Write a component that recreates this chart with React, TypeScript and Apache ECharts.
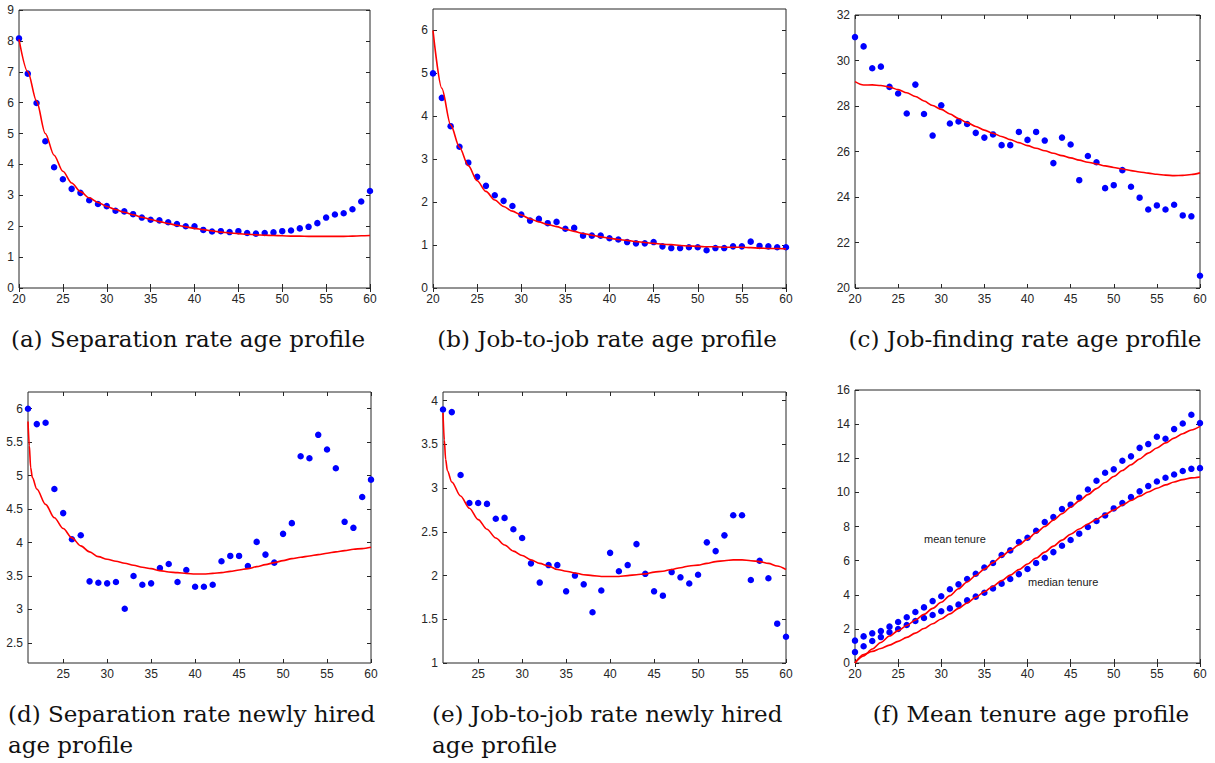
import React, { useEffect, useRef } from "react";
import * as echarts from "echarts";

// ---------- data ----------
const AGES_20 = [20, 21, 22, 23, 24, 25, 26, 27, 28, 29, 30, 31, 32, 33, 34, 35, 36, 37, 38, 39, 40, 41, 42, 43, 44, 45, 46, 47, 48, 49, 50, 51, 52, 53, 54, 55, 56, 57, 58, 59, 60];
const AGES_21 = [21, 22, 23, 24, 25, 26, 27, 28, 29, 30, 31, 32, 33, 34, 35, 36, 37, 38, 39, 40, 41, 42, 43, 44, 45, 46, 47, 48, 49, 50, 51, 52, 53, 54, 55, 56, 57, 58, 59, 60];

// (a) Separation rate age profile
const sepRateData = [8.08, 6.94, 5.99, 4.75, 3.91, 3.52, 3.21, 3.08, 2.84, 2.72, 2.65, 2.5, 2.48, 2.39, 2.28, 2.21, 2.19, 2.13, 2.07, 2.0, 2.0, 1.88, 1.83, 1.84, 1.81, 1.84, 1.78, 1.76, 1.78, 1.8, 1.84, 1.86, 1.93, 1.98, 2.1, 2.28, 2.38, 2.42, 2.55, 2.8, 3.14];
const sepRateModel = [8.05, 7.0, 6.05, 5.0, 4.3, 3.78, 3.4, 3.12, 2.92, 2.77, 2.64, 2.54, 2.45, 2.37, 2.29, 2.22, 2.15, 2.09, 2.03, 1.98, 1.93, 1.89, 1.85, 1.81, 1.78, 1.76, 1.74, 1.72, 1.71, 1.7, 1.69, 1.68, 1.68, 1.67, 1.67, 1.67, 1.67, 1.67, 1.68, 1.69, 1.7];

// (b) Job-to-job rate age profile
const j2jData = [5.0, 4.43, 3.77, 3.29, 2.92, 2.59, 2.38, 2.16, 2.03, 1.91, 1.71, 1.57, 1.61, 1.51, 1.54, 1.38, 1.4, 1.22, 1.22, 1.22, 1.16, 1.13, 1.07, 1.04, 1.04, 1.07, 0.97, 0.93, 0.93, 0.95, 0.95, 0.88, 0.93, 0.93, 0.97, 0.97, 1.08, 0.98, 0.97, 0.95, 0.95];
const j2jModel = [6.0, 4.65, 3.8, 3.28, 2.85, 2.5, 2.25, 2.05, 1.9, 1.79, 1.7, 1.61, 1.54, 1.48, 1.43, 1.37, 1.32, 1.27, 1.23, 1.19, 1.16, 1.13, 1.11, 1.08, 1.06, 1.04, 1.02, 1.01, 0.99, 0.98, 0.97, 0.96, 0.96, 0.95, 0.95, 0.95, 0.94, 0.93, 0.92, 0.92, 0.91];

// (c) Job-finding rate age profile
const jfData = [31.03, 30.62, 29.66, 29.73, 28.84, 28.55, 27.67, 28.94, 27.65, 26.7, 28.03, 27.23, 27.32, 27.21, 26.82, 26.61, 26.75, 26.28, 26.28, 26.86, 26.51, 26.86, 26.48, 25.49, 26.61, 26.31, 24.74, 25.8, 25.53, 24.39, 24.52, 25.18, 24.45, 23.97, 23.45, 23.63, 23.45, 23.66, 23.19, 23.15, 20.54];
const jfModel = [29.07, 28.92, 28.93, 28.9, 28.83, 28.72, 28.58, 28.42, 28.22, 28.02, 27.85, 27.65, 27.45, 27.27, 27.1, 26.94, 26.8, 26.66, 26.52, 26.39, 26.26, 26.14, 26.03, 25.92, 25.82, 25.72, 25.62, 25.53, 25.45, 25.37, 25.3, 25.23, 25.16, 25.1, 25.05, 25.0, 24.96, 24.94, 24.95, 24.99, 25.06];

// (d) Separation rate newly hired age profile
const sepNewData = [6.0, 5.77, 5.79, 4.8, 4.44, 4.05, 4.11, 3.42, 3.4, 3.39, 3.41, 3.01, 3.5, 3.37, 3.39, 3.62, 3.68, 3.41, 3.59, 3.34, 3.34, 3.37, 3.72, 3.8, 3.8, 3.65, 4.01, 3.82, 3.7, 4.13, 4.29, 5.29, 5.26, 5.61, 5.39, 5.11, 4.31, 4.22, 4.68, 4.94];
const sepNewModelAges = [21, 21.15, 21.3, 21.5, 22, 23, 24, 25, 26, 27, 28, 29, 30, 31, 32, 33, 34, 35, 36, 37, 38, 39, 40, 41, 42, 43, 44, 45, 46, 47, 48, 49, 50, 51, 52, 53, 54, 55, 56, 57, 58, 59, 60];
const sepNewModel = [5.81, 5.45, 5.12, 4.97, 4.8, 4.57, 4.37, 4.21, 4.07, 3.95, 3.86, 3.79, 3.75, 3.72, 3.69, 3.66, 3.63, 3.61, 3.58, 3.56, 3.55, 3.54, 3.53, 3.53, 3.54, 3.55, 3.57, 3.59, 3.61, 3.64, 3.67, 3.7, 3.73, 3.76, 3.78, 3.8, 3.82, 3.84, 3.86, 3.88, 3.9, 3.91, 3.93];

// (e) Job-to-job rate newly hired age profile
const j2jNewData = [3.9, 3.87, 3.15, 2.83, 2.83, 2.82, 2.65, 2.66, 2.53, 2.43, 2.14, 1.92, 2.12, 2.12, 1.82, 2.0, 1.9, 1.58, 1.83, 2.26, 2.05, 2.12, 2.36, 2.02, 1.82, 1.77, 2.04, 1.98, 1.91, 2.01, 2.38, 2.28, 2.46, 2.69, 2.69, 1.95, 2.17, 1.97, 1.45, 1.3];
const j2jNewModelAges = [21, 21.15, 21.3, 21.5, 22, 23, 24, 25, 26, 27, 28, 29, 30, 31, 32, 33, 34, 35, 36, 37, 38, 39, 40, 41, 42, 43, 44, 45, 46, 47, 48, 49, 50, 51, 52, 53, 54, 55, 56, 57, 58, 59, 60];
const j2jNewModel = [3.86, 3.55, 3.33, 3.2, 3.07, 2.91, 2.77, 2.64, 2.53, 2.43, 2.35, 2.28, 2.23, 2.18, 2.14, 2.11, 2.07, 2.05, 2.03, 2.01, 2.0, 1.99, 1.99, 1.99, 2.0, 2.01, 2.02, 2.04, 2.05, 2.07, 2.09, 2.11, 2.12, 2.14, 2.16, 2.17, 2.18, 2.18, 2.17, 2.16, 2.14, 2.11, 2.07];

// (f) Mean tenure age profile
const meanTenureData = [1.31, 1.56, 1.74, 1.87, 2.13, 2.4, 2.68, 2.99, 3.26, 3.63, 3.91, 4.32, 4.61, 4.92, 5.23, 5.6, 5.86, 6.33, 6.6, 7.09, 7.34, 7.75, 8.26, 8.55, 9.02, 9.28, 9.69, 10.17, 10.68, 11.15, 11.35, 11.85, 12.11, 12.61, 12.83, 13.26, 13.14, 13.71, 14.04, 14.55, 14.06];
const medianTenureData = [0.64, 0.98, 1.29, 1.52, 1.8, 1.99, 2.23, 2.46, 2.64, 2.81, 3.03, 3.2, 3.42, 3.67, 3.89, 4.12, 4.37, 4.65, 4.92, 5.21, 5.51, 5.86, 6.17, 6.5, 6.87, 7.21, 7.58, 7.97, 8.32, 8.65, 9.06, 9.37, 9.72, 10.06, 10.37, 10.64, 10.86, 11.05, 11.25, 11.38, 11.42];
const meanTenureModel = [0.0, 0.42, 0.82, 1.2, 1.58, 1.9, 2.2, 2.52, 2.85, 3.2, 3.56, 3.95, 4.35, 4.75, 5.13, 5.5, 5.88, 6.25, 6.6, 6.92, 7.27, 7.63, 8.0, 8.37, 8.75, 9.13, 9.5, 9.87, 10.22, 10.58, 10.93, 11.28, 11.62, 11.96, 12.3, 12.6, 12.9, 13.18, 13.44, 13.66, 13.87];
const medianTenureModel = [0.0, 0.5, 0.68, 0.85, 1.05, 1.27, 1.5, 1.75, 2.02, 2.3, 2.58, 2.88, 3.2, 3.52, 3.85, 4.18, 4.5, 4.83, 5.15, 5.47, 5.8, 6.15, 6.5, 6.85, 7.2, 7.55, 7.85, 8.15, 8.42, 8.7, 8.97, 9.25, 9.52, 9.78, 10.02, 10.24, 10.44, 10.61, 10.75, 10.85, 10.9];

// tick labels
const xTicks20 = [20, 25, 30, 35, 40, 45, 50, 55, 60];
const xTicks25 = [25, 30, 35, 40, 45, 50, 55, 60];
const yTicksA = [0, 1, 2, 3, 4, 5, 6, 7, 8, 9];
const yTicksB = [0, 1, 2, 3, 4, 5, 6];
const yTicksC = [20, 22, 24, 26, 28, 30, 32];
const yTicksD = [2.5, 3, 3.5, 4, 4.5, 5, 5.5, 6];
const yTicksE = [1, 1.5, 2, 2.5, 3, 3.5, 4];
const yTicksF = [0, 2, 4, 6, 8, 10, 12, 14, 16];

const captions = [
  "(a) Separation rate age profile",
  "(b) Job-to-job rate age profile",
  "(c) Job-finding rate age profile",
  "(d) Separation rate newly hired",
  "(e) Job-to-job rate newly hired",
  "(f) Mean tenure age profile",
  "age profile",
];

// ---------- styling ----------
const AXIS = "#262626";
const SANS = "'Liberation Sans', Arial, Helvetica, sans-serif";
const SERIF = "'DejaVu Serif', serif";
const BLUE = "#0000ff";
const RED = "#ff0000";

type Rect = { left: number; top: number; width: number; height: number };

const zip = (xs: number[], ys: number[]) => xs.map((x, i) => [x, ys[i]]);

export default function App() {
  const ref = useRef<HTMLDivElement>(null);

  useEffect(() => {
    if (!ref.current) return;
    const chart = echarts.init(ref.current, undefined, { renderer: "svg" });

    const grids: any[] = [];
    const xAxes: any[] = [];
    const yAxes: any[] = [];
    const series: any[] = [];

    const addPanel = (
      r: Rect,
      xMin: number,
      xMax: number,
      xT: number[],
      yMin: number,
      yMax: number,
      yT: number[]
    ) => {
      const gi = grids.length;
      grids.push({ ...r, show: true, borderColor: AXIS, borderWidth: 1, backgroundColor: "transparent" });
      const tick = (vals: number[]) => ({
        show: true,
        inside: true,
        length: 4,
        customValues: vals,
        lineStyle: { color: AXIS, width: 1 },
      });
      const lbl = (vals: number[], show: boolean) => ({
        show,
        customValues: vals,
        color: AXIS,
        fontSize: 12,
        fontFamily: SANS,
        margin: 5,
      });
      ["bottom", "top"].forEach((pos, k) => {
        xAxes.push({
          gridIndex: gi,
          type: "value",
          position: pos,
          min: xMin,
          max: xMax,
          axisLine: { show: false },
          axisTick: tick(xT),
          axisLabel: lbl(xT, k === 0),
          splitLine: { show: false },
        });
      });
      ["left", "right"].forEach((pos, k) => {
        yAxes.push({
          gridIndex: gi,
          type: "value",
          position: pos,
          min: yMin,
          max: yMax,
          axisLine: { show: false },
          axisTick: tick(yT),
          axisLabel: lbl(yT, k === 0),
          splitLine: { show: false },
        });
      });
      return gi * 2;
    };

    const scatter = (ax: number, data: number[][]) => ({
      type: "scatter",
      xAxisIndex: ax,
      yAxisIndex: ax,
      data,
      symbol: "circle",
      symbolSize: 6.5,
      itemStyle: { color: BLUE, opacity: 1 },
      silent: true,
    });
    const line = (ax: number, data: number[][]) => ({
      type: "line",
      xAxisIndex: ax,
      yAxisIndex: ax,
      data,
      showSymbol: false,
      smooth: 0.3,
      smoothMonotone: "x",
      lineStyle: { color: RED, width: 1.6 },
      silent: true,
    });

    // (a)
    let ax = addPanel({ left: 19, top: 10, width: 351, height: 278 }, 20, 60, xTicks20, 0, 9, yTicksA);
    series.push(line(ax, zip(AGES_20, sepRateModel)), scatter(ax, zip(AGES_20, sepRateData)));
    // (b)
    ax = addPanel({ left: 433, top: 9, width: 353, height: 279 }, 20, 60, xTicks20, 0, 6.5, yTicksB);
    series.push(line(ax, zip(AGES_20, j2jModel)), scatter(ax, zip(AGES_20, j2jData)));
    // (c)
    ax = addPanel({ left: 855, top: 15, width: 345, height: 273 }, 20, 60, xTicks20, 20, 32, yTicksC);
    series.push(line(ax, zip(AGES_20, jfModel)), scatter(ax, zip(AGES_20, jfData)));
    // (d)
    ax = addPanel({ left: 28, top: 392, width: 343, height: 271 }, 21, 60, xTicks25, 2.2, 6.25, yTicksD);
    series.push(line(ax, zip(sepNewModelAges, sepNewModel)), scatter(ax, zip(AGES_21, sepNewData)));
    // (e)
    ax = addPanel({ left: 443, top: 392, width: 343, height: 271 }, 21, 60, xTicks25, 1, 4.1, yTicksE);
    series.push(line(ax, zip(j2jNewModelAges, j2jNewModel)), scatter(ax, zip(AGES_21, j2jNewData)));
    // (f)
    ax = addPanel({ left: 855, top: 390, width: 345, height: 273 }, 20, 60, xTicks20, 0, 16, yTicksF);
    series.push(
      line(ax, zip(AGES_20, meanTenureModel)),
      line(ax, zip(AGES_20, medianTenureModel)),
      scatter(ax, zip(AGES_20, meanTenureData)),
      scatter(ax, zip(AGES_20, medianTenureData))
    );

    const cap = (text: string, x: number, y: number, align: string) => ({
      type: "text",
      x,
      y,
      silent: true,
      style: {
        text,
        fill: "#111",
        font: `23px ${SERIF}`,
        textAlign: align,
        textVerticalAlign: "middle",
      },
    });
    const note = (text: string, x: number, y: number) => ({
      type: "text",
      x,
      y,
      silent: true,
      style: { text, fill: "#1a1a1a", font: `11px ${SANS}`, textAlign: "left", textVerticalAlign: "middle" },
    });

    chart.setOption({
      animation: false,
      backgroundColor: "#ffffff",
      grid: grids,
      xAxis: xAxes,
      yAxis: yAxes,
      series,
      graphic: [
        cap(captions[0], 188, 339, "center"),
        cap(captions[1], 607, 339, "center"),
        cap(captions[2], 1025, 339, "center"),
        cap(captions[3], 8, 714, "left"),
        cap(captions[6], 8, 745, "left"),
        cap(captions[4], 432, 714, "left"),
        cap(captions[6], 432, 745, "left"),
        cap(captions[5], 1031, 714, "center"),
        note("mean tenure", 924, 539),
        note("median tenure", 1028, 582),
      ],
    });

    return () => chart.dispose();
  }, []);

  return (
    <div
      ref={ref}
      style={{ position: "fixed", left: 0, top: 0, width: 1215, height: 763, background: "#fff" }}
    />
  );
}
